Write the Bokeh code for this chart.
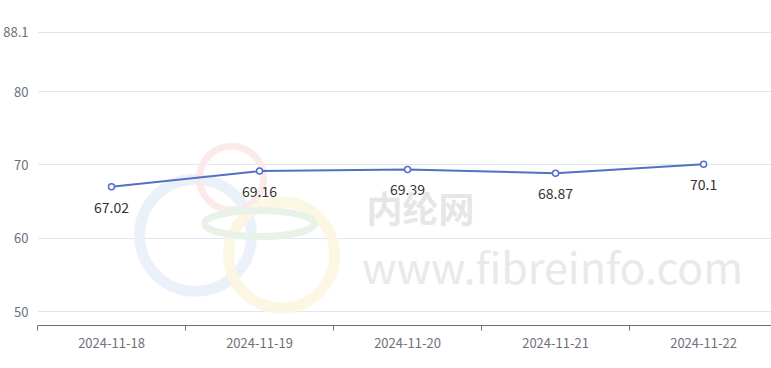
from bokeh.plotting import figure
from bokeh.models import ColumnDataSource, Range1d, FixedTicker, Label
from bokeh.core.properties import value
from bokeh.embed import file_html
from bokeh.resources import INLINE

# ---- data ----
dates = ["2024-11-18", "2024-11-19", "2024-11-20", "2024-11-21", "2024-11-22"]
prices = [67.02, 69.16, 69.39, 68.87, 70.1]
y_ticks = [50, 60, 70, 80, 88.1]
y_min, y_max = 48.1, 88.2

FONT = "Noto Sans CJK SC"
AXIS_COLOR = "#6e7079"
LINE_COLOR = "#5470c6"

idx = list(range(len(dates)))
src = ColumnDataSource(dict(x=idx, y=prices, lbl=[f"{v:g}" for v in prices]))

p = figure(width=771, height=368, output_backend="svg", toolbar_location=None,
           x_range=Range1d(-0.5, 4.459), y_range=Range1d(y_min, y_max),
           min_border_left=37, min_border_right=0, min_border_top=31, min_border_bottom=43)
p.outline_line_color = None
p.background_fill_color = "white"
p.border_fill_color = "white"

# ---- watermark (decoration) ----
wm_rings = dict(x=[0.568, 0.811, 1.149], y=[60.4, 68.2, 57.7],
                r=[56, 32, 53], w=[11, 7, 11],
                c=["#e9effb", "#fbe8e8", "#fcf6e0"])
for i in range(3):
    p.circle(x=[wm_rings["x"][i]], y=[wm_rings["y"][i]], radius=wm_rings["r"][i],
             radius_units="screen", fill_color=None, line_color=wm_rings["c"][i],
             line_width=wm_rings["w"][i], line_alpha=0.9)
p.ellipse(x=[1.0], y=[62.0], width=110, height=26, width_units="screen",
          height_units="screen", fill_color=None, line_color="#e8f2e9", line_width=7)
p.add_layout(Label(x=2.088, y=64.2, text="内纶网", text_font=FONT,
                   text_font_size="36px", text_font_style="bold", text_color="#e6e6e6",
                   text_align="center", text_baseline="middle"))
p.add_layout(Label(x=2.98, y=56.3, text="www.fibreinfo.com", text_font=FONT,
                   text_font_size="43px", text_color="#e9e9e9",
                   text_align="center", text_baseline="middle"))

# ---- series ----
p.line("x", "y", source=src, line_color=LINE_COLOR, line_width=2)
p.scatter("x", "y", source=src, size=6, marker="circle", fill_color="white",
          line_color=LINE_COLOR, line_width=1.5)
p.text("x", "y", text="lbl", source=src, text_font=value(FONT), text_font_size="14px",
       text_color="#333333", text_align="center", text_baseline="top", y_offset=15)

# ---- axes ----
xa = p.xaxis[0]
xa.ticker = FixedTicker(ticks=idx, minor_ticks=[i - 0.5 for i in range(len(dates) + 1)])
xa.major_label_overrides = {i: d for i, d in enumerate(dates)}
xa.axis_line_color = AXIS_COLOR
xa.major_tick_line_color = None
xa.major_tick_out = 0
xa.major_tick_in = 0
xa.minor_tick_line_color = AXIS_COLOR
xa.minor_tick_out = 5
xa.minor_tick_in = 0
xa.major_label_standoff = 7
xa.major_label_text_font = FONT
xa.major_label_text_font_size = "13px"
xa.major_label_text_color = AXIS_COLOR

ya = p.yaxis[0]
ya.ticker = FixedTicker(ticks=y_ticks, minor_ticks=[])
ya.major_label_overrides = {88.1: "88.1"}
ya.axis_line_color = None
ya.major_tick_line_color = None
ya.minor_tick_line_color = None
ya.major_tick_out = 0
ya.major_tick_in = 0
ya.major_label_standoff = 9
ya.major_label_text_font = FONT
ya.major_label_text_font_size = "13px"
ya.major_label_text_color = AXIS_COLOR

p.xgrid.grid_line_color = None
p.ygrid.grid_line_color = "#e0e6f1"
p.ygrid.ticker = FixedTicker(ticks=y_ticks)

open("out.html", "w").write(file_html(p, INLINE))
